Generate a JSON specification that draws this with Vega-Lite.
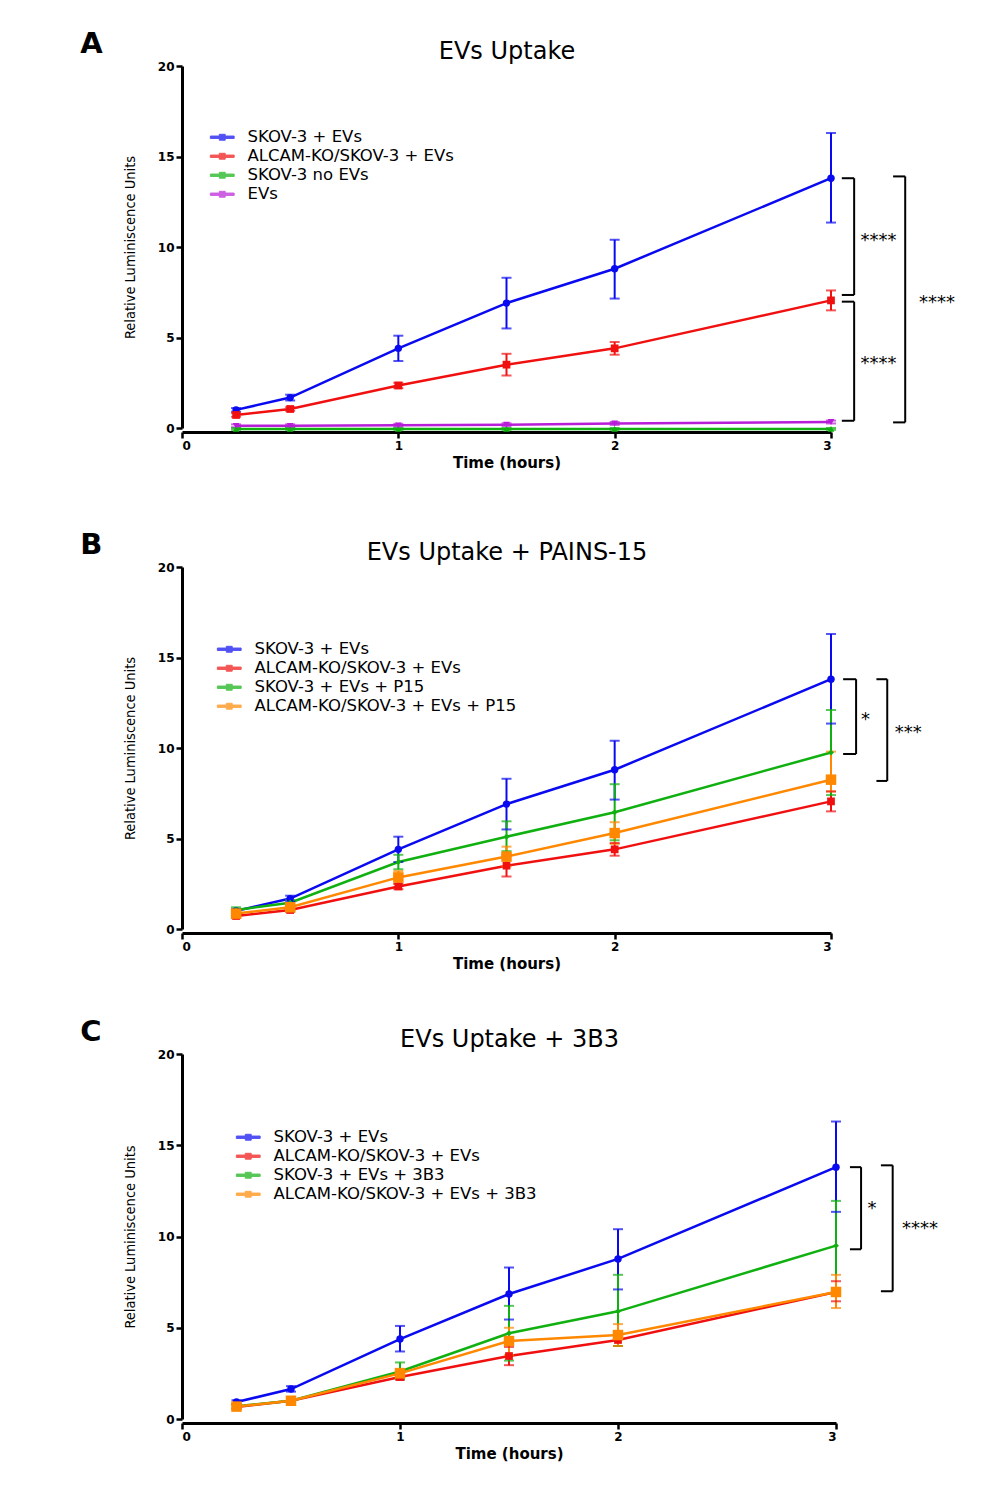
{
  "$schema": "https://vega.github.io/schema/vega-lite/v6.json",
  "background": "white",
  "padding": {"left": 80, "top": 30, "right": 10, "bottom": 10},
  "spacing": 61,
  "config": {
    "view": {"stroke": null},
    "font": "DejaVu Sans",
    "axis": {"domainColor": "black", "domainWidth": 3, "tickColor": "black", "tickWidth": 2.5, "tickSize": 6, "labelFont": "DejaVu Sans", "labelFontWeight": "bold", "labelFontSize": 12, "labelColor": "black", "grid": false, "titleFont": "DejaVu Sans", "titleColor": "black"},
    "legend": {"labelFont": "DejaVu Sans", "labelFontSize": 16.5, "labelColor": "black", "labelLimit": 0},
    "title": {"color": "black", "font": "DejaVu Sans"}
  },
  "resolve": {"scale": {"color": "independent"}, "legend": {"color": "independent"}},
  "datasets": {
    "pts": [
      {"p": "A", "s": "SKOV-3 + EVs", "t": 0.25, "v": 1.0, "lo": 0.9, "hi": 1.1},
      {"p": "A", "s": "SKOV-3 + EVs", "t": 0.5, "v": 1.68, "lo": 1.52, "hi": 1.84},
      {"p": "A", "s": "SKOV-3 + EVs", "t": 1, "v": 4.4, "lo": 3.7, "hi": 5.1},
      {"p": "A", "s": "SKOV-3 + EVs", "t": 1.5, "v": 6.9, "lo": 5.5, "hi": 8.3},
      {"p": "A", "s": "SKOV-3 + EVs", "t": 2, "v": 8.8, "lo": 7.15, "hi": 10.4},
      {"p": "A", "s": "SKOV-3 + EVs", "t": 3, "v": 13.8, "lo": 11.35, "hi": 16.3},
      {"p": "A", "s": "ALCAM-KO/SKOV-3 + EVs", "t": 0.25, "v": 0.72, "lo": 0.62, "hi": 0.82},
      {"p": "A", "s": "ALCAM-KO/SKOV-3 + EVs", "t": 0.5, "v": 1.05, "lo": 0.95, "hi": 1.15},
      {"p": "A", "s": "ALCAM-KO/SKOV-3 + EVs", "t": 1, "v": 2.35, "lo": 2.2, "hi": 2.5},
      {"p": "A", "s": "ALCAM-KO/SKOV-3 + EVs", "t": 1.5, "v": 3.5, "lo": 2.9, "hi": 4.1},
      {"p": "A", "s": "ALCAM-KO/SKOV-3 + EVs", "t": 2, "v": 4.4, "lo": 4.05, "hi": 4.75},
      {"p": "A", "s": "ALCAM-KO/SKOV-3 + EVs", "t": 3, "v": 7.05, "lo": 6.5, "hi": 7.6},
      {"p": "A", "s": "SKOV-3 no EVs", "t": 0.25, "v": -0.05, "lo": -0.1, "hi": 0.0},
      {"p": "A", "s": "SKOV-3 no EVs", "t": 0.5, "v": -0.05, "lo": -0.1, "hi": 0.0},
      {"p": "A", "s": "SKOV-3 no EVs", "t": 1, "v": -0.05, "lo": -0.1, "hi": 0.0},
      {"p": "A", "s": "SKOV-3 no EVs", "t": 1.5, "v": -0.05, "lo": -0.1, "hi": 0.0},
      {"p": "A", "s": "SKOV-3 no EVs", "t": 2, "v": -0.05, "lo": -0.1, "hi": 0.0},
      {"p": "A", "s": "SKOV-3 no EVs", "t": 3, "v": -0.05, "lo": -0.1, "hi": 0.0},
      {"p": "A", "s": "EVs", "t": 0.25, "v": 0.12, "lo": 0.04, "hi": 0.2},
      {"p": "A", "s": "EVs", "t": 0.5, "v": 0.12, "lo": 0.04, "hi": 0.2},
      {"p": "A", "s": "EVs", "t": 1, "v": 0.15, "lo": 0.07, "hi": 0.23},
      {"p": "A", "s": "EVs", "t": 1.5, "v": 0.18, "lo": 0.1, "hi": 0.26},
      {"p": "A", "s": "EVs", "t": 2, "v": 0.25, "lo": 0.17, "hi": 0.33},
      {"p": "A", "s": "EVs", "t": 3, "v": 0.33, "lo": 0.25, "hi": 0.41},

      {"p": "B", "s": "SKOV-3 + EVs", "t": 0.25, "v": 1.0, "lo": 0.9, "hi": 1.1},
      {"p": "B", "s": "SKOV-3 + EVs", "t": 0.5, "v": 1.68, "lo": 1.52, "hi": 1.84},
      {"p": "B", "s": "SKOV-3 + EVs", "t": 1, "v": 4.4, "lo": 3.7, "hi": 5.1},
      {"p": "B", "s": "SKOV-3 + EVs", "t": 1.5, "v": 6.9, "lo": 5.5, "hi": 8.3},
      {"p": "B", "s": "SKOV-3 + EVs", "t": 2, "v": 8.8, "lo": 7.15, "hi": 10.4},
      {"p": "B", "s": "SKOV-3 + EVs", "t": 3, "v": 13.8, "lo": 11.35, "hi": 16.3},
      {"p": "B", "s": "ALCAM-KO/SKOV-3 + EVs", "t": 0.25, "v": 0.72, "lo": 0.62, "hi": 0.82},
      {"p": "B", "s": "ALCAM-KO/SKOV-3 + EVs", "t": 0.5, "v": 1.05, "lo": 0.95, "hi": 1.15},
      {"p": "B", "s": "ALCAM-KO/SKOV-3 + EVs", "t": 1, "v": 2.35, "lo": 2.2, "hi": 2.5},
      {"p": "B", "s": "ALCAM-KO/SKOV-3 + EVs", "t": 1.5, "v": 3.5, "lo": 2.9, "hi": 4.1},
      {"p": "B", "s": "ALCAM-KO/SKOV-3 + EVs", "t": 2, "v": 4.4, "lo": 4.05, "hi": 4.75},
      {"p": "B", "s": "ALCAM-KO/SKOV-3 + EVs", "t": 3, "v": 7.05, "lo": 6.5, "hi": 7.6},
      {"p": "B", "s": "SKOV-3 + EVs + P15", "t": 0.25, "v": 1.05, "lo": 0.9, "hi": 1.2},
      {"p": "B", "s": "SKOV-3 + EVs + P15", "t": 0.5, "v": 1.45, "lo": 1.3, "hi": 1.6},
      {"p": "B", "s": "SKOV-3 + EVs + P15", "t": 1, "v": 3.7, "lo": 3.3, "hi": 4.1},
      {"p": "B", "s": "SKOV-3 + EVs + P15", "t": 1.5, "v": 5.1, "lo": 4.3, "hi": 5.95},
      {"p": "B", "s": "SKOV-3 + EVs + P15", "t": 2, "v": 6.45, "lo": 4.9, "hi": 8.0},
      {"p": "B", "s": "SKOV-3 + EVs + P15", "t": 3, "v": 9.75, "lo": 7.4, "hi": 12.1},
      {"p": "B", "s": "ALCAM-KO/SKOV-3 + EVs + P15", "t": 0.25, "v": 0.85, "lo": 0.7, "hi": 1.0},
      {"p": "B", "s": "ALCAM-KO/SKOV-3 + EVs + P15", "t": 0.5, "v": 1.2, "lo": 1.05, "hi": 1.35},
      {"p": "B", "s": "ALCAM-KO/SKOV-3 + EVs + P15", "t": 1, "v": 2.85, "lo": 2.5, "hi": 3.2},
      {"p": "B", "s": "ALCAM-KO/SKOV-3 + EVs + P15", "t": 1.5, "v": 4.0, "lo": 3.45, "hi": 4.55},
      {"p": "B", "s": "ALCAM-KO/SKOV-3 + EVs + P15", "t": 2, "v": 5.3, "lo": 4.7, "hi": 5.9},
      {"p": "B", "s": "ALCAM-KO/SKOV-3 + EVs + P15", "t": 3, "v": 8.25, "lo": 7.6, "hi": 9.8},

      {"p": "C", "s": "SKOV-3 + EVs", "t": 0.25, "v": 0.93, "lo": 0.83, "hi": 1.03},
      {"p": "C", "s": "SKOV-3 + EVs", "t": 0.5, "v": 1.64, "lo": 1.5, "hi": 1.8},
      {"p": "C", "s": "SKOV-3 + EVs", "t": 1, "v": 4.38, "lo": 3.7, "hi": 5.1},
      {"p": "C", "s": "SKOV-3 + EVs", "t": 1.5, "v": 6.85, "lo": 5.45, "hi": 8.3},
      {"p": "C", "s": "SKOV-3 + EVs", "t": 2, "v": 8.77, "lo": 7.1, "hi": 10.4},
      {"p": "C", "s": "SKOV-3 + EVs", "t": 3, "v": 13.8, "lo": 11.35, "hi": 16.3},
      {"p": "C", "s": "ALCAM-KO/SKOV-3 + EVs", "t": 0.25, "v": 0.66, "lo": 0.56, "hi": 0.76},
      {"p": "C", "s": "ALCAM-KO/SKOV-3 + EVs", "t": 0.5, "v": 1.0, "lo": 0.9, "hi": 1.1},
      {"p": "C", "s": "ALCAM-KO/SKOV-3 + EVs", "t": 1, "v": 2.3, "lo": 2.15, "hi": 2.45},
      {"p": "C", "s": "ALCAM-KO/SKOV-3 + EVs", "t": 1.5, "v": 3.45, "lo": 2.95, "hi": 3.95},
      {"p": "C", "s": "ALCAM-KO/SKOV-3 + EVs", "t": 2, "v": 4.33, "lo": 4.0, "hi": 4.65},
      {"p": "C", "s": "ALCAM-KO/SKOV-3 + EVs", "t": 3, "v": 6.96, "lo": 6.45, "hi": 7.55},
      {"p": "C", "s": "SKOV-3 + EVs + 3B3", "t": 0.25, "v": 0.7, "lo": 0.6, "hi": 0.8},
      {"p": "C", "s": "SKOV-3 + EVs + 3B3", "t": 0.5, "v": 1.0, "lo": 0.9, "hi": 1.1},
      {"p": "C", "s": "SKOV-3 + EVs + 3B3", "t": 1, "v": 2.6, "lo": 2.2, "hi": 3.1},
      {"p": "C", "s": "SKOV-3 + EVs + 3B3", "t": 1.5, "v": 4.7, "lo": 3.2, "hi": 6.2},
      {"p": "C", "s": "SKOV-3 + EVs + 3B3", "t": 2, "v": 5.9, "lo": 4.0, "hi": 7.9},
      {"p": "C", "s": "SKOV-3 + EVs + 3B3", "t": 3, "v": 9.5, "lo": 7.0, "hi": 11.95},
      {"p": "C", "s": "ALCAM-KO/SKOV-3 + EVs + 3B3", "t": 0.25, "v": 0.68, "lo": 0.55, "hi": 0.8},
      {"p": "C", "s": "ALCAM-KO/SKOV-3 + EVs + 3B3", "t": 0.5, "v": 1.0, "lo": 0.9, "hi": 1.1},
      {"p": "C", "s": "ALCAM-KO/SKOV-3 + EVs + 3B3", "t": 1, "v": 2.5, "lo": 2.3, "hi": 2.75},
      {"p": "C", "s": "ALCAM-KO/SKOV-3 + EVs + 3B3", "t": 1.5, "v": 4.27, "lo": 3.5, "hi": 5.0},
      {"p": "C", "s": "ALCAM-KO/SKOV-3 + EVs + 3B3", "t": 2, "v": 4.6, "lo": 4.0, "hi": 5.2},
      {"p": "C", "s": "ALCAM-KO/SKOV-3 + EVs + 3B3", "t": 3, "v": 6.96, "lo": 6.08, "hi": 7.9}
    ],
    "br": [
      {"p": "A", "x": 3.05, "x2": 3.107, "y": 13.8, "y2": 13.8},
      {"p": "A", "x": 3.107, "x2": 3.107, "y": 13.8, "y2": 7.35},
      {"p": "A", "x": 3.05, "x2": 3.107, "y": 7.35, "y2": 7.35},
      {"p": "A", "x": 3.05, "x2": 3.107, "y": 6.98, "y2": 6.98},
      {"p": "A", "x": 3.107, "x2": 3.107, "y": 6.98, "y2": 0.4},
      {"p": "A", "x": 3.05, "x2": 3.107, "y": 0.4, "y2": 0.4},
      {"p": "A", "x": 3.287, "x2": 3.343, "y": 13.9, "y2": 13.9},
      {"p": "A", "x": 3.343, "x2": 3.343, "y": 13.9, "y2": 0.31},
      {"p": "A", "x": 3.287, "x2": 3.343, "y": 0.31, "y2": 0.31},
      {"p": "B", "x": 3.056, "x2": 3.116, "y": 13.8, "y2": 13.8},
      {"p": "B", "x": 3.116, "x2": 3.116, "y": 13.8, "y2": 9.67},
      {"p": "B", "x": 3.056, "x2": 3.116, "y": 9.67, "y2": 9.67},
      {"p": "B", "x": 3.21, "x2": 3.26, "y": 13.8, "y2": 13.8},
      {"p": "B", "x": 3.26, "x2": 3.26, "y": 13.8, "y2": 8.18},
      {"p": "B", "x": 3.21, "x2": 3.26, "y": 8.18, "y2": 8.18},
      {"p": "C", "x": 3.064, "x2": 3.115, "y": 13.8, "y2": 13.8},
      {"p": "C", "x": 3.115, "x2": 3.115, "y": 13.8, "y2": 9.3},
      {"p": "C", "x": 3.064, "x2": 3.115, "y": 9.3, "y2": 9.3},
      {"p": "C", "x": 3.206, "x2": 3.26, "y": 13.9, "y2": 13.9},
      {"p": "C", "x": 3.26, "x2": 3.26, "y": 13.9, "y2": 7.0},
      {"p": "C", "x": 3.206, "x2": 3.26, "y": 7.0, "y2": 7.0}
    ],
    "sig": [
      {"p": "A", "x": 3.22, "y": 10.6, "label": "****"},
      {"p": "A", "x": 3.22, "y": 3.8, "label": "****"},
      {"p": "A", "x": 3.49, "y": 7.2, "label": "****"},
      {"p": "B", "x": 3.16, "y": 11.8, "label": "*"},
      {"p": "B", "x": 3.357, "y": 11.1, "label": "***"},
      {"p": "C", "x": 3.165, "y": 11.8, "label": "*"},
      {"p": "C", "x": 3.385, "y": 10.7, "label": "****"}
    ]
  },
  "vconcat": [
    {
      "width": 649, "height": 362,
      "title": {"text": "A", "anchor": "start", "fontSize": 29, "fontWeight": "bold", "dx": -42, "dy": 20, "offset": 0, "frame": "bounds"},
      "resolve": {"axis": {"x": "independent"}},
      "layer": [
        {
          "data": {"name": "pts"}, "transform": [{"filter": "datum.p == 'A'"}],
          "mark": {"type": "line", "strokeWidth": 2.5},
          "encoding": {
            "x": {"field": "t", "type": "quantitative", "scale": {"domain": [0, 3], "nice": false}, "axis": {"orient": "bottom", "values": [0, 1, 2, 3], "format": "d", "title": "Time (hours)", "titleFontSize": 15, "titleFontWeight": "bold", "offset": 4, "labelPadding": 2, "titlePadding": 4}},
            "y": {"field": "v", "type": "quantitative", "scale": {"domain": [0, 20], "nice": false}, "axis": {"values": [0, 5, 10, 15, 20], "title": "Relative Luminiscence Units", "titleFont": "DejaVu Sans Condensed, Liberation Sans, sans-serif", "titleFontWeight": "normal", "titleFontSize": 14.5, "titlePadding": 20}},
            "color": {"field": "s", "type": "nominal", "scale": {"domain": ["SKOV-3 + EVs", "ALCAM-KO/SKOV-3 + EVs", "SKOV-3 no EVs", "EVs"], "range": ["#0a0af0", "#f01010", "#10b010", "#b81ed8"]},
              "legend": {"title": null, "orient": "none", "legendX": 32, "legendY": 63, "symbolType": "M-1.7,-0.17H1.7V0.17H-1.7ZM-0.42,-0.42H0.42V0.42H-0.42Z", "symbolSize": 196, "symbolStrokeWidth": 1, "symbolOpacity": 1, "labelOffset": 17, "rowPadding": 2}}
          }
        },
        {
          "data": {"name": "pts"}, "transform": [{"filter": "datum.p == 'A'"}],
          "mark": {"type": "rule", "strokeWidth": 2},
          "encoding": {
            "x": {"field": "t", "type": "quantitative", "axis": null},
            "y": {"field": "lo", "type": "quantitative"},
            "y2": {"field": "hi"},
            "color": {"field": "s", "type": "nominal"}
          }
        },
        {
          "data": {"name": "pts"}, "transform": [{"filter": "datum.p == 'A'"}],
          "mark": {"type": "tick", "orient": "horizontal", "size": 10, "thickness": 2},
          "encoding": {
            "x": {"field": "t", "type": "quantitative", "axis": null},
            "y": {"field": "lo", "type": "quantitative"},
            "color": {"field": "s", "type": "nominal"}
          }
        },
        {
          "data": {"name": "pts"}, "transform": [{"filter": "datum.p == 'A'"}],
          "mark": {"type": "tick", "orient": "horizontal", "size": 10, "thickness": 2},
          "encoding": {
            "x": {"field": "t", "type": "quantitative", "axis": null},
            "y": {"field": "hi", "type": "quantitative"},
            "color": {"field": "s", "type": "nominal"}
          }
        },
        {
          "data": {"name": "pts"}, "transform": [{"filter": "datum.p == 'A' && datum.s == 'SKOV-3 + EVs'"}],
          "mark": {"type": "point", "filled": true, "opacity": 1, "shape": "circle", "size": 55},
          "encoding": {"x": {"field": "t", "type": "quantitative", "axis": null}, "y": {"field": "v", "type": "quantitative"}, "color": {"field": "s", "type": "nominal"}}
        },
        {
          "data": {"name": "pts"}, "transform": [{"filter": "datum.p == 'A' && datum.s == 'ALCAM-KO/SKOV-3 + EVs'"}],
          "mark": {"type": "point", "filled": true, "opacity": 1, "shape": "square", "size": 60},
          "encoding": {"x": {"field": "t", "type": "quantitative", "axis": null}, "y": {"field": "v", "type": "quantitative"}, "color": {"field": "s", "type": "nominal"}}
        },
        {
          "data": {"name": "pts"}, "transform": [{"filter": "datum.p == 'A' && datum.s == 'SKOV-3 no EVs'"}],
          "mark": {"type": "point", "filled": true, "opacity": 1, "shape": "triangle-up", "size": 45},
          "encoding": {"x": {"field": "t", "type": "quantitative", "axis": null}, "y": {"field": "v", "type": "quantitative"}, "color": {"field": "s", "type": "nominal"}}
        },
        {
          "data": {"name": "pts"}, "transform": [{"filter": "datum.p == 'A' && datum.s == 'EVs'"}],
          "mark": {"type": "point", "filled": true, "opacity": 1, "shape": "triangle-down", "size": 45},
          "encoding": {"x": {"field": "t", "type": "quantitative", "axis": null}, "y": {"field": "v", "type": "quantitative"}, "color": {"field": "s", "type": "nominal"}}
        },
        {
          "data": {"name": "br"}, "transform": [{"filter": "datum.p == 'A'"}],
          "mark": {"type": "rule", "clip": false, "strokeWidth": 2, "color": "black"},
          "encoding": {
            "x": {"field": "x", "type": "quantitative", "axis": {"orient": "top", "title": "EVs Uptake", "titleFontSize": 24, "titleFontWeight": "normal", "domain": false, "ticks": false, "labels": false, "titlePadding": 3}},
            "x2": {"field": "x2"},
            "y": {"field": "y", "type": "quantitative"},
            "y2": {"field": "y2"}
          }
        },
        {
          "data": {"name": "sig"}, "transform": [{"filter": "datum.p == 'A'"}],
          "mark": {"type": "text", "clip": false, "fontSize": 18, "baseline": "alphabetic", "dy": 10, "align": "center", "color": "black"},
          "encoding": {
            "x": {"field": "x", "type": "quantitative", "axis": null},
            "y": {"field": "y", "type": "quantitative"},
            "text": {"field": "label"}
          }
        }
      ]
    },
    {
      "spacing": 47,
      "resolve": {"scale": {"color": "independent"}, "legend": {"color": "independent"}},
      "vconcat": [
        {
          "width": 649, "height": 362,
          "title": {"text": "B", "anchor": "start", "fontSize": 29, "fontWeight": "bold", "dx": -42, "dy": 20, "offset": 0, "frame": "bounds"},
          "resolve": {"axis": {"x": "independent"}},
          "layer": [
            {
              "data": {"name": "pts"}, "transform": [{"filter": "datum.p == 'B'"}],
              "mark": {"type": "line", "strokeWidth": 2.5},
              "encoding": {
                "x": {"field": "t", "type": "quantitative", "scale": {"domain": [0, 3], "nice": false}, "axis": {"orient": "bottom", "values": [0, 1, 2, 3], "format": "d", "title": "Time (hours)", "titleFontSize": 15, "titleFontWeight": "bold", "offset": 4, "labelPadding": 2, "titlePadding": 4}},
                "y": {"field": "v", "type": "quantitative", "scale": {"domain": [0, 20], "nice": false}, "axis": {"values": [0, 5, 10, 15, 20], "title": "Relative Luminiscence Units", "titleFont": "DejaVu Sans Condensed, Liberation Sans, sans-serif", "titleFontWeight": "normal", "titleFontSize": 14.5, "titlePadding": 20}},
                "color": {"field": "s", "type": "nominal", "scale": {"domain": ["SKOV-3 + EVs", "ALCAM-KO/SKOV-3 + EVs", "SKOV-3 + EVs + P15", "ALCAM-KO/SKOV-3 + EVs + P15"], "range": ["#0a0af0", "#f01010", "#10b010", "#ff8800"]},
                  "legend": {"title": null, "orient": "none", "legendX": 39, "legendY": 74, "symbolType": "M-1.7,-0.17H1.7V0.17H-1.7ZM-0.42,-0.42H0.42V0.42H-0.42Z", "symbolSize": 196, "symbolStrokeWidth": 1, "symbolOpacity": 1, "labelOffset": 17, "rowPadding": 2}}
              }
            },
            {
              "data": {"name": "pts"}, "transform": [{"filter": "datum.p == 'B'"}],
              "mark": {"type": "rule", "strokeWidth": 2},
              "encoding": {
                "x": {"field": "t", "type": "quantitative", "axis": null},
                "y": {"field": "lo", "type": "quantitative"},
                "y2": {"field": "hi"},
                "color": {"field": "s", "type": "nominal"}
              }
            },
            {
              "data": {"name": "pts"}, "transform": [{"filter": "datum.p == 'B'"}],
              "mark": {"type": "tick", "orient": "horizontal", "size": 10, "thickness": 2},
              "encoding": {
                "x": {"field": "t", "type": "quantitative", "axis": null},
                "y": {"field": "lo", "type": "quantitative"},
                "color": {"field": "s", "type": "nominal"}
              }
            },
            {
              "data": {"name": "pts"}, "transform": [{"filter": "datum.p == 'B'"}],
              "mark": {"type": "tick", "orient": "horizontal", "size": 10, "thickness": 2},
              "encoding": {
                "x": {"field": "t", "type": "quantitative", "axis": null},
                "y": {"field": "hi", "type": "quantitative"},
                "color": {"field": "s", "type": "nominal"}
              }
            },
            {
              "data": {"name": "pts"}, "transform": [{"filter": "datum.p == 'B' && datum.s == 'SKOV-3 + EVs'"}],
              "mark": {"type": "point", "filled": true, "opacity": 1, "shape": "circle", "size": 55},
              "encoding": {"x": {"field": "t", "type": "quantitative", "axis": null}, "y": {"field": "v", "type": "quantitative"}, "color": {"field": "s", "type": "nominal"}}
            },
            {
              "data": {"name": "pts"}, "transform": [{"filter": "datum.p == 'B' && datum.s == 'ALCAM-KO/SKOV-3 + EVs'"}],
              "mark": {"type": "point", "filled": true, "opacity": 1, "shape": "square", "size": 60},
              "encoding": {"x": {"field": "t", "type": "quantitative", "axis": null}, "y": {"field": "v", "type": "quantitative"}, "color": {"field": "s", "type": "nominal"}}
            },
            {
              "data": {"name": "pts"}, "transform": [{"filter": "datum.p == 'B' && datum.s == 'SKOV-3 + EVs + P15'"}],
              "mark": {"type": "point", "filled": true, "opacity": 1, "shape": "diamond", "size": 35},
              "encoding": {"x": {"field": "t", "type": "quantitative", "axis": null}, "y": {"field": "v", "type": "quantitative"}, "color": {"field": "s", "type": "nominal"}}
            },
            {
              "data": {"name": "pts"}, "transform": [{"filter": "datum.p == 'B' && datum.s == 'ALCAM-KO/SKOV-3 + EVs + P15'"}],
              "mark": {"type": "point", "filled": true, "opacity": 1, "shape": "square", "size": 110},
              "encoding": {"x": {"field": "t", "type": "quantitative", "axis": null}, "y": {"field": "v", "type": "quantitative"}, "color": {"field": "s", "type": "nominal"}}
            },
            {
              "data": {"name": "br"}, "transform": [{"filter": "datum.p == 'B'"}],
              "mark": {"type": "rule", "clip": false, "strokeWidth": 2, "color": "black"},
              "encoding": {
                "x": {"field": "x", "type": "quantitative", "axis": {"orient": "top", "title": "EVs Uptake + PAINS-15", "titleFontSize": 24, "titleFontWeight": "normal", "domain": false, "ticks": false, "labels": false, "titlePadding": 3}},
                "x2": {"field": "x2"},
                "y": {"field": "y", "type": "quantitative"},
                "y2": {"field": "y2"}
              }
            },
            {
              "data": {"name": "sig"}, "transform": [{"filter": "datum.p == 'B'"}],
              "mark": {"type": "text", "clip": false, "fontSize": 18, "baseline": "alphabetic", "dy": 10, "align": "center", "color": "black"},
              "encoding": {
                "x": {"field": "x", "type": "quantitative", "axis": null},
                "y": {"field": "y", "type": "quantitative"},
                "text": {"field": "label"}
              }
            }
          ]
        },
        {
          "width": 654, "height": 365,
          "title": {"text": "C", "anchor": "start", "fontSize": 29, "fontWeight": "bold", "dx": -42, "dy": 20, "offset": 0, "frame": "bounds"},
          "resolve": {"axis": {"x": "independent"}},
          "layer": [
            {
              "data": {"name": "pts"}, "transform": [{"filter": "datum.p == 'C'"}],
              "mark": {"type": "line", "strokeWidth": 2.5},
              "encoding": {
                "x": {"field": "t", "type": "quantitative", "scale": {"domain": [0, 3], "nice": false}, "axis": {"orient": "bottom", "values": [0, 1, 2, 3], "format": "d", "title": "Time (hours)", "titleFontSize": 15, "titleFontWeight": "bold", "offset": 4, "labelPadding": 2, "titlePadding": 4}},
                "y": {"field": "v", "type": "quantitative", "scale": {"domain": [0, 20], "nice": false}, "axis": {"values": [0, 5, 10, 15, 20], "title": "Relative Luminiscence Units", "titleFont": "DejaVu Sans Condensed, Liberation Sans, sans-serif", "titleFontWeight": "normal", "titleFontSize": 14.5, "titlePadding": 20}},
                "color": {"field": "s", "type": "nominal", "scale": {"domain": ["SKOV-3 + EVs", "ALCAM-KO/SKOV-3 + EVs", "SKOV-3 + EVs + 3B3", "ALCAM-KO/SKOV-3 + EVs + 3B3"], "range": ["#0a0af0", "#f01010", "#10b010", "#ff8800"]},
                  "legend": {"title": null, "orient": "none", "legendX": 58, "legendY": 75, "symbolType": "M-1.7,-0.17H1.7V0.17H-1.7ZM-0.42,-0.42H0.42V0.42H-0.42Z", "symbolSize": 196, "symbolStrokeWidth": 1, "symbolOpacity": 1, "labelOffset": 17, "rowPadding": 2}}
              }
            },
            {
              "data": {"name": "pts"}, "transform": [{"filter": "datum.p == 'C'"}],
              "mark": {"type": "rule", "strokeWidth": 2},
              "encoding": {
                "x": {"field": "t", "type": "quantitative", "axis": null},
                "y": {"field": "lo", "type": "quantitative"},
                "y2": {"field": "hi"},
                "color": {"field": "s", "type": "nominal"}
              }
            },
            {
              "data": {"name": "pts"}, "transform": [{"filter": "datum.p == 'C'"}],
              "mark": {"type": "tick", "orient": "horizontal", "size": 10, "thickness": 2},
              "encoding": {
                "x": {"field": "t", "type": "quantitative", "axis": null},
                "y": {"field": "lo", "type": "quantitative"},
                "color": {"field": "s", "type": "nominal"}
              }
            },
            {
              "data": {"name": "pts"}, "transform": [{"filter": "datum.p == 'C'"}],
              "mark": {"type": "tick", "orient": "horizontal", "size": 10, "thickness": 2},
              "encoding": {
                "x": {"field": "t", "type": "quantitative", "axis": null},
                "y": {"field": "hi", "type": "quantitative"},
                "color": {"field": "s", "type": "nominal"}
              }
            },
            {
              "data": {"name": "pts"}, "transform": [{"filter": "datum.p == 'C' && datum.s == 'SKOV-3 + EVs'"}],
              "mark": {"type": "point", "filled": true, "opacity": 1, "shape": "circle", "size": 55},
              "encoding": {"x": {"field": "t", "type": "quantitative", "axis": null}, "y": {"field": "v", "type": "quantitative"}, "color": {"field": "s", "type": "nominal"}}
            },
            {
              "data": {"name": "pts"}, "transform": [{"filter": "datum.p == 'C' && datum.s == 'ALCAM-KO/SKOV-3 + EVs'"}],
              "mark": {"type": "point", "filled": true, "opacity": 1, "shape": "square", "size": 60},
              "encoding": {"x": {"field": "t", "type": "quantitative", "axis": null}, "y": {"field": "v", "type": "quantitative"}, "color": {"field": "s", "type": "nominal"}}
            },
            {
              "data": {"name": "pts"}, "transform": [{"filter": "datum.p == 'C' && datum.s == 'SKOV-3 + EVs + 3B3'"}],
              "mark": {"type": "point", "filled": true, "opacity": 1, "shape": "diamond", "size": 35},
              "encoding": {"x": {"field": "t", "type": "quantitative", "axis": null}, "y": {"field": "v", "type": "quantitative"}, "color": {"field": "s", "type": "nominal"}}
            },
            {
              "data": {"name": "pts"}, "transform": [{"filter": "datum.p == 'C' && datum.s == 'ALCAM-KO/SKOV-3 + EVs + 3B3'"}],
              "mark": {"type": "point", "filled": true, "opacity": 1, "shape": "square", "size": 110},
              "encoding": {"x": {"field": "t", "type": "quantitative", "axis": null}, "y": {"field": "v", "type": "quantitative"}, "color": {"field": "s", "type": "nominal"}}
            },
            {
              "data": {"name": "br"}, "transform": [{"filter": "datum.p == 'C'"}],
              "mark": {"type": "rule", "clip": false, "strokeWidth": 2, "color": "black"},
              "encoding": {
                "x": {"field": "x", "type": "quantitative", "axis": {"orient": "top", "title": "EVs Uptake + 3B3", "titleFontSize": 24, "titleFontWeight": "normal", "domain": false, "ticks": false, "labels": false, "titlePadding": 3}},
                "x2": {"field": "x2"},
                "y": {"field": "y", "type": "quantitative"},
                "y2": {"field": "y2"}
              }
            },
            {
              "data": {"name": "sig"}, "transform": [{"filter": "datum.p == 'C'"}],
              "mark": {"type": "text", "clip": false, "fontSize": 18, "baseline": "alphabetic", "dy": 10, "align": "center", "color": "black"},
              "encoding": {
                "x": {"field": "x", "type": "quantitative", "axis": null},
                "y": {"field": "y", "type": "quantitative"},
                "text": {"field": "label"}
              }
            }
          ]
        }
      ]
    }
  ]
}
